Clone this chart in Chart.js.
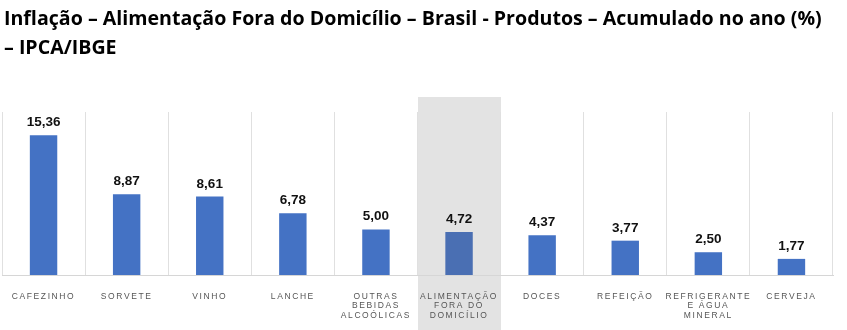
<!DOCTYPE html>
<html>
<head>
<meta charset="utf-8">
<script src="https://cdn.jsdelivr.net/npm/chart.js@4"></script>
<style>
  html,body{margin:0;padding:0;background:#fff;}
  #wrap{position:relative;width:847px;height:330px;overflow:hidden;}
  #title{position:absolute;left:4px;top:4px;width:843px;font:bold 19.6px "Open Sans",Lato,sans-serif;line-height:28.5px;color:#000;letter-spacing:0;white-space:nowrap;}
  canvas{position:absolute;left:0;top:0;}
</style>
</head>
<body>
<div id="wrap">
  <canvas id="c" width="847" height="330"></canvas>
  <div id="title">Inflação – Alimentação Fora do Domicílio – Brasil - Produtos – Acumulado no ano (%)<br>– IPCA/IBGE</div>
</div>
<script>
// categories (multi-line labels) and accumulated values
const LABELS = [
  ["CAFEZINHO"], ["SORVETE"], ["VINHO"], ["LANCHE"],
  ["OUTRAS", "BEBIDAS", "ALCOÓLICAS"], ["ALIMENTAÇÃO", "FORA DO", "DOMICÍLIO"],
  ["DOCES"], ["REFEIÇÃO"], ["REFRIGERANTE", "E ÁGUA", "MINERAL"], ["CERVEJA"]
];
const VALUES = [15.36, 8.87, 8.61, 6.78, 5.00, 4.72, 4.37, 3.77, 2.50, 1.77];
const HIGHLIGHT = 5; // "Alimentação fora do domicílio" = the total, shaded

const BLUE = "#4472c4", BLUE_HL = "#4a6fb3";
const FMT = v => v.toFixed(2).replace(".", ",");

// grey band behind the highlighted category
const band = {
  id: "band",
  beforeDraw(chart){
    const x = chart.scales.x, ctx = chart.ctx;
    const w = x.width / LABELS.length;
    const cx = x.getPixelForValue(HIGHLIGHT);
    ctx.save();
    ctx.fillStyle = "#e3e3e3";
    ctx.fillRect(Math.round(cx - w/2), chart.chartArea.top - 15, Math.round(w), chart.height);
    ctx.restore();
    ctx.letterSpacing = "1.6px";   // spaced-out axis labels
  },
  beforeDatasetsDraw(chart){ chart.ctx.letterSpacing = "0px"; }
};

// value labels on top of bars
const valueLabels = {
  id: "valueLabels",
  afterDatasetsDraw(chart){
    const ctx = chart.ctx;
    ctx.save();
    ctx.letterSpacing = "0px";
    ctx.font = "bold 13.5px 'Liberation Sans', Arial, sans-serif";
    ctx.fillStyle = "#111";
    ctx.textAlign = "center";
    ctx.textBaseline = "bottom";
    chart.getDatasetMeta(0).data.forEach((bar, i) => {
      ctx.fillText(FMT(VALUES[i]), bar.x, bar.y - 6);
    });
    ctx.restore();
  }
};

new Chart(document.getElementById("c"), {
  type: "bar",
  data: {
    labels: LABELS,
    datasets: [{
      data: VALUES,
      backgroundColor: VALUES.map((v,i) => i === HIGHLIGHT ? BLUE_HL : BLUE),
      borderWidth: 0,
      categoryPercentage: 1,
      barPercentage: 0.33
    }]
  },
  options: {
    responsive: false,
    animation: false,
    layout: { padding: { left: 2, right: 14, top: 112, bottom: 0 } },
    plugins: { legend: {display:false}, tooltip: {enabled:false} },
    scales: {
      y: { display: false, min: 0, max: 17.9 },
      x: {
        afterFit: s => { s.height = 55; },
        grid: { color: "#e0e0e0", drawTicks: false, offset: true },
        border: { color: "#d6d6d6" },
        ticks: {
          padding: 17, maxRotation: 0, autoSkip: false,
          color: "#555", font: { size: 8.5, family: "'Liberation Sans', Arial, sans-serif", lineHeight: 1.1 }
        }
      }
    }
  },
  plugins: [band, valueLabels]
});
</script>
</body>
</html>
